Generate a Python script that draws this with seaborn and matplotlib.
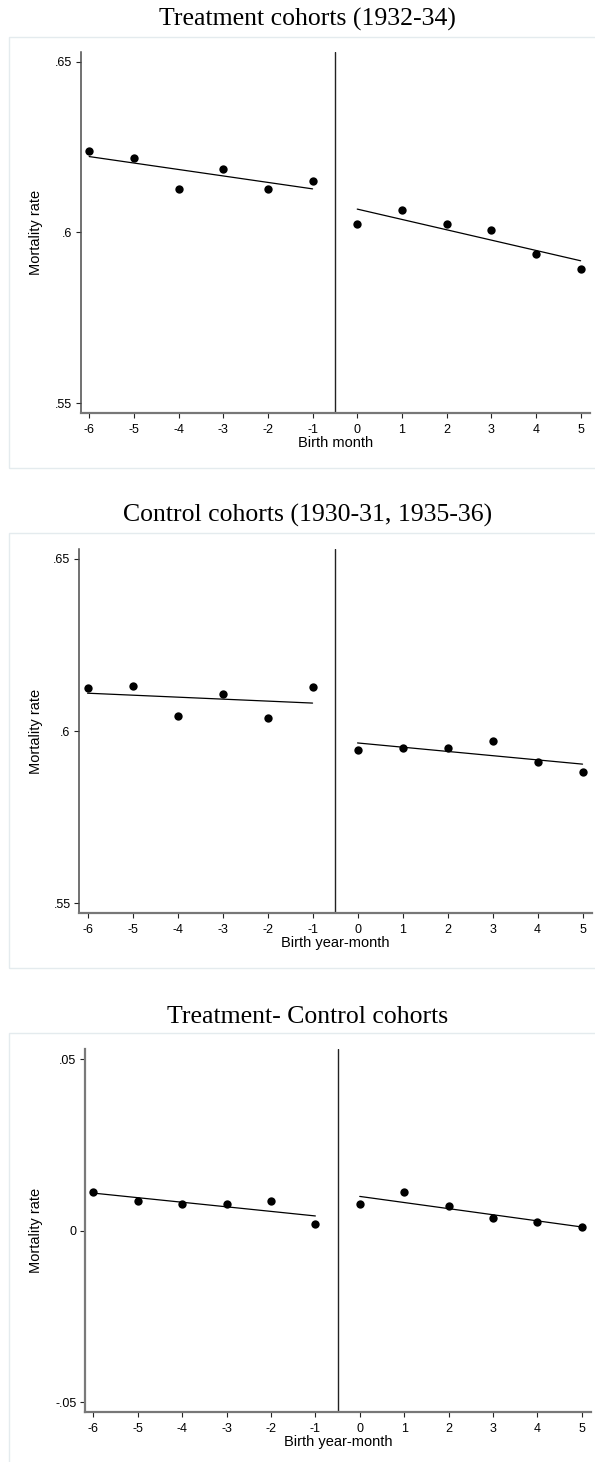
import numpy as np
import pandas as pd
import matplotlib
matplotlib.use("Agg")
import matplotlib.pyplot as plt
from matplotlib.patches import Rectangle
import seaborn as sns

# -------------------------------
# data
# -------------------------------
months = [-6, -5, -4, -3, -2, -1, 0, 1, 2, 3, 4, 5]
treat_rate = [0.6239, 0.6219, 0.6127, 0.6186, 0.6127, 0.6150,
              0.6025, 0.6066, 0.6025, 0.6008, 0.5937, 0.5894]
control_rate = [0.6125, 0.6130, 0.6045, 0.6107, 0.6039, 0.6127,
                0.5945, 0.5952, 0.5950, 0.5970, 0.5910, 0.5880]
diff_rate = [0.0112, 0.0086, 0.0079, 0.0078, 0.0086, 0.0019,
             0.0077, 0.0112, 0.0073, 0.0036, 0.0025, 0.0012]
cutoff = -0.5

titles = ["Treatment cohorts (1932-34)",
          "Control cohorts (1930-31, 1935-36)",
          "Treatment- Control cohorts"]
xlabels = ["Birth month", "Birth year-month", "Birth year-month"]
ylabel = "Mortality rate"
rate_ticks = [0.55, 0.6, 0.65]
rate_ticklabels = [".55", ".6", ".65"]
diff_ticks = [-0.05, 0, 0.05]
diff_ticklabels = ["-.05", "0", ".05"]
month_ticklabels = [str(m) for m in months]

# -------------------------------
# style
# -------------------------------
sns.set_theme(style="ticks")
plt.rcParams["font.family"] = ["Liberation Sans", "DejaVu Sans"]
plt.rcParams["axes.unicode_minus"] = False

W, H = 595, 1462
fig = plt.figure(figsize=(W / 100, H / 100), dpi=100)
fig.patch.set_facecolor("white")

# panel geometry in pixels: axes left/right/top/bottom, box top/bottom, title baseline
panels = [
    dict(l=80.7, r=590, t=51.7, b=412.7, bt=36.7, bb=468, tb=25.5,
         y=treat_rate, ylim=(0.5472, 0.6529), ticks=rate_ticks, tlab=rate_ticklabels,
         lspine=("#4a4a4a", 1.1)),
    dict(l=79, r=592, t=549.3, b=912.7, bt=533.3, bb=968, tb=521.7,
         y=control_rate, ylim=(0.5472, 0.6528), ticks=rate_ticks, tlab=rate_ticklabels,
         lspine=("#4a4a4a", 1.1)),
    dict(l=85, r=591, t=1049.3, b=1411.7, bt=1033.3, bb=1470, tb=1022.7,
         y=diff_rate, ylim=(-0.0527, 0.0529), ticks=diff_ticks, tlab=diff_ticklabels,
         lspine=("#7a7a7a", 1.6)),
]

for i, p in enumerate(panels):
    # light frame around each sub-graph
    fig.add_artist(Rectangle((9.3 / W, 1 - p["bb"] / H), (W + 10 - 9.3) / W,
                             (p["bb"] - p["bt"]) / H, transform=fig.transFigure,
                             facecolor="none", edgecolor="#e4ebee", lw=1.0))

    ax = fig.add_axes([p["l"] / W, 1 - p["b"] / H, (p["r"] - p["l"]) / W,
                       (p["b"] - p["t"]) / H])
    df = pd.DataFrame({"month": months, "rate": p["y"]})
    for side in [df[df.month < cutoff], df[df.month > cutoff]]:
        sns.regplot(data=side, x="month", y="rate", ax=ax, ci=None,
                    scatter_kws=dict(s=36, color="black", linewidths=0, alpha=1),
                    line_kws=dict(color="black", lw=0.9))
    ax.axvline(cutoff, color="#222222", lw=1.0)

    ax.set_xlim(-6.19, 5.21)
    ax.set_ylim(*p["ylim"])
    ax.set_xticks(months)
    ax.set_xticklabels(month_ticklabels)
    ax.set_yticks(p["ticks"])
    ax.set_yticklabels(p["tlab"])
    ax.tick_params(axis="both", labelsize=9, length=3.6, width=0.8,
                   color="#222222", labelcolor="black")
    ax.tick_params(axis="x", pad=4.5)
    ax.tick_params(axis="y", pad=2.5)

    sns.despine(ax=ax)
    ax.spines["left"].set_color(p["lspine"][0])
    ax.spines["left"].set_linewidth(p["lspine"][1])
    ax.spines["bottom"].set_color("#777777")
    ax.spines["bottom"].set_linewidth(1.6)

    w_px = p["r"] - p["l"]
    h_px = p["b"] - p["t"]
    ax.set_xlabel(xlabels[i], fontsize=10.5, color="black", va="center")
    ax.xaxis.set_label_coords(0.5, -(443 - 412.7) / h_px)
    ax.set_ylabel(ylabel, fontsize=10.5, color="black", va="center")
    ax.yaxis.set_label_coords((36 - p["l"]) / w_px, 0.5)

    fig.text(307.5 / W, 1 - p["tb"] / H, titles[i], ha="center", va="baseline",
             fontsize=18.5, family=["Liberation Serif", "DejaVu Serif"], color="black")

fig.savefig("out.png", dpi=100, facecolor="white")
